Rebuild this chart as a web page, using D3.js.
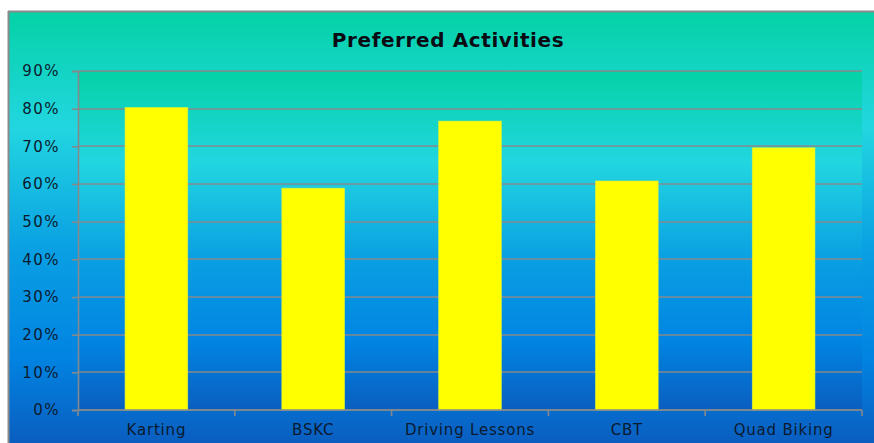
<!DOCTYPE html>
<html><head><meta charset="utf-8">
<script src="https://cdn.jsdelivr.net/npm/d3@7"></script>
<style>html,body{margin:0;padding:0;background:#fff;}svg{display:block;}</style>
</head><body>
<script>
const categories = ["Karting","BSKC","Driving Lessons","CBT","Quad Biking"];
const values = [0.803, 0.589, 0.767, 0.608, 0.696];
const yTicks = [0,0.1,0.2,0.3,0.4,0.5,0.6,0.7,0.8,0.9];
const title = "Preferred Activities";

const W = 874, H = 443;
const FONT = "DejaVu Sans, sans-serif";
const GRID = "#848a8c";
const svg = d3.select("body").append("svg").attr("width", W).attr("height", H);
const defs = svg.append("defs");
function grad(id){
  const g = defs.append("linearGradient").attr("id", id).attr("x1",0).attr("y1",0).attr("x2",0).attr("y2",1);
  [[0,"#04D2A6"],[0.27,"#22D6E0"],[0.55,"#0AA0E3"],[0.8,"#0184E2"],[1,"#0A5EC0"]].forEach(([o,c])=>g.append("stop").attr("offset",o).attr("stop-color",c));
}
grad("outerG"); grad("plotG");

svg.append("rect").attr("x",8).attr("y",11).attr("width",W-8).attr("height",H-11).attr("fill","url(#outerG)");
svg.append("line").attr("x1",8).attr("x2",W).attr("y1",11.5).attr("y2",11.5).attr("stroke","#8a8a8a").attr("stroke-width",2);
svg.append("line").attr("x1",8.5).attr("x2",8.5).attr("y1",11).attr("y2",H).attr("stroke","#8a8a8a").attr("stroke-width",2);

const m = {l:78, t:71, r:862, b:410};
const x = d3.scaleBand().domain(categories).range([m.l, m.r]).paddingInner(0.6).paddingOuter(0.3);
const y = d3.scaleLinear().domain([0,0.9]).range([m.b, m.t]);

svg.append("rect").attr("x",m.l).attr("y",m.t).attr("width",m.r-m.l).attr("height",m.b-m.t).attr("fill","url(#plotG)");

// gridlines
svg.append("g").selectAll("line").data(yTicks).join("line")
  .attr("x1",m.l).attr("x2",m.r).attr("y1",d=>Math.round(y(d))).attr("y2",d=>Math.round(y(d)))
  .attr("stroke",GRID).attr("stroke-width",1.6);

// bars
svg.append("g").selectAll("rect").data(values).join("rect")
  .attr("x",(d,i)=>x(categories[i])).attr("width",x.bandwidth())
  .attr("y",d=>y(d)).attr("height",d=>y(0)-y(d))
  .attr("fill","#FFFF00").attr("stroke","#D8F040").attr("stroke-width",0.6);

// y axis
const ya = d3.axisLeft(y).tickValues(yTicks).tickFormat(d3.format(".0%")).tickSize(6).tickPadding(12);
const gy = svg.append("g").attr("transform",`translate(${m.l},0)`).call(ya);
gy.select(".domain").attr("stroke",GRID).attr("stroke-width",1.6);
gy.selectAll(".tick line").attr("stroke",GRID).attr("stroke-width",1.6);
gy.selectAll("text").attr("fill","#0b1a2e").style("font-family",FONT).style("font-size","15px").style("letter-spacing","1.5px");

// x axis
const xa = d3.axisBottom(x).tickSize(0).tickPadding(14);
const gx = svg.append("g").attr("transform",`translate(0,${m.b})`).call(xa);
gx.select(".domain").attr("stroke",GRID).attr("stroke-width",1.6).attr("d",`M${m.l},0H${m.r}`);
gx.selectAll("text").attr("fill","#0b1a2e").style("font-family",FONT).style("font-size","15px").style("letter-spacing","0.8px");
// category boundary ticks
const bounds = d3.range(categories.length+1).map(i=>m.l + i*(m.r-m.l)/categories.length);
svg.append("g").selectAll("line").data(bounds).join("line")
  .attr("x1",d=>d).attr("x2",d=>d).attr("y1",m.b).attr("y2",m.b+6)
  .attr("stroke",GRID).attr("stroke-width",1.6);

svg.append("text").attr("x",448).attr("y",47).attr("text-anchor","middle")
  .style("font-family",FONT).style("font-weight","bold").style("font-size","20px").style("letter-spacing","0.6px")
  .attr("fill","#0b0b14").text(title);
</script>
</body></html>
